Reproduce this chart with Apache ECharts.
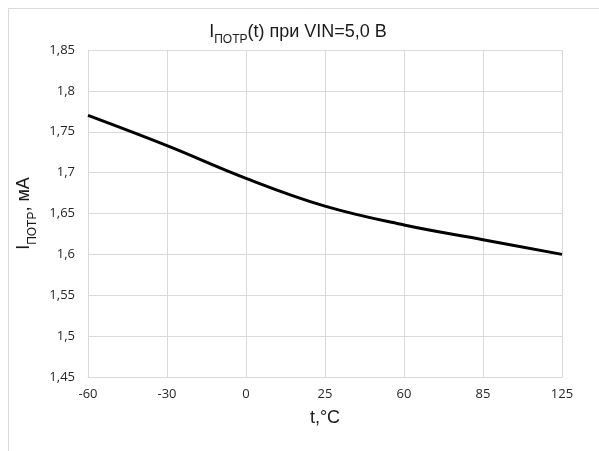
<!DOCTYPE html>
<html><head><meta charset="utf-8">
<script src="https://cdn.jsdelivr.net/npm/echarts@6/dist/echarts.min.js"></script>
<style>html,body{margin:0;padding:0;background:#fff}#c{width:599px;height:451px}</style>
</head><body><div id="c"></div>
<script>
const categories = ['-60', '-30', '0', '25', '60', '85', '125'];
const current = [1.770, 1.733, 1.693, 1.659, 1.636, 1.618, 1.600];
const yTicks = [1.45, 1.5, 1.55, 1.6, 1.65, 1.7, 1.75, 1.8, 1.85];

const chart = echarts.init(document.getElementById('c'), null, {renderer: 'canvas'});
const tickFont = '"Open Sans", "Liberation Sans", sans-serif';
const labelFont = '"Liberation Sans", Arial, sans-serif';
chart.setOption({
  animation: false,
  backgroundColor: '#fff',
  graphic: [{
    type: 'rect', shape: {x: 8.5, y: 8.5, width: 600, height: 460},
    style: {fill: 'none', stroke: '#d9d9d9', lineWidth: 1}, silent: true
  }],
  title: {
    text: '{m|I}{s|ПОТР}{m|(t) при VIN=5,0 В}',
    left: 293, top: 14, textAlign: 'center',
    textStyle: {
      fontWeight: 'normal',
      rich: {
        m: {fontFamily: labelFont, fontSize: 18, fontWeight: 'normal', color: '#1a1a1a', verticalAlign: 'bottom', lineHeight: 22},
        s: {fontFamily: labelFont, fontSize: 12, fontWeight: 'normal', color: '#1a1a1a', verticalAlign: 'bottom', lineHeight: 15, padding: [0,0,-5,0]}
      }
    }
  },
  grid: {left: 88, right: 37, top: 50, bottom: 74},
  xAxis: {
    type: 'category', data: categories, boundaryGap: false,
    name: 't,°C', nameLocation: 'middle', nameGap: 32,
    nameTextStyle: {fontFamily: labelFont, fontSize: 18, color: '#1a1a1a'},
    axisLine: {lineStyle: {color: '#d9d9d9', width: 1}},
    axisTick: {show: false},
    axisLabel: {fontFamily: tickFont, fontSize: 13, color: '#262626', margin: 11},
    splitLine: {show: true, lineStyle: {color: '#d9d9d9', width: 1}}
  },
  yAxis: {
    type: 'value', min: 1.45, max: 1.85, interval: 0.05,
    name: '{m|I}{s|ПОТР}{m|, мА}', nameLocation: 'middle', nameGap: 46, nameRotate: 90,
    nameTextStyle: {
      rich: {
        m: {fontFamily: labelFont, fontSize: 18, color: '#1a1a1a', verticalAlign: 'bottom', lineHeight: 22},
        s: {fontFamily: labelFont, fontSize: 12, color: '#1a1a1a', verticalAlign: 'bottom', lineHeight: 15, padding: [0,0,-5,0]}
      }
    },
    axisLine: {show: false},
    axisTick: {show: false},
    axisLabel: {fontFamily: tickFont, fontSize: 13, color: '#262626', margin: 13,
      formatter: v => {
        const t = yTicks.find(k => Math.abs(k - v) < 1e-9);
        return t === undefined ? '' : String(+t.toFixed(2)).replace('.', ',');
      }},
    splitLine: {show: true, lineStyle: {color: '#d9d9d9', width: 1}}
  },
  series: [{
    type: 'line', data: current, smooth: 0.4, showSymbol: false,
    lineStyle: {color: '#000', width: 3}
  }]
});
</script></body></html>
